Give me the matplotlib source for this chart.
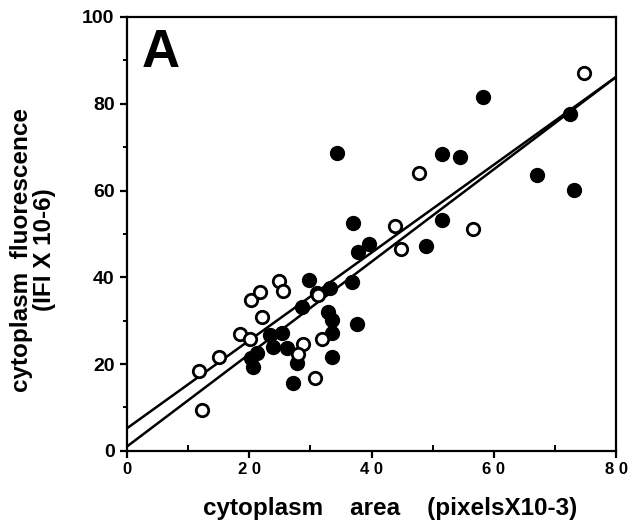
import numpy as np
import matplotlib
matplotlib.use("Agg")
import matplotlib.pyplot as plt

plt.rcParams['font.family'] = ['Liberation Sans', 'DejaVu Sans']

# open circles (area, fluorescence)
open_x = [11.8, 12.2, 15.1, 18.5, 20.1, 20.2, 21.8, 22.1, 24.9, 25.5, 28.7, 27.9,
          30.7, 31.9, 31.3, 43.8, 44.8, 47.7, 56.6, 74.7]
open_y = [18.5, 9.4, 21.7, 26.9, 25.8, 34.8, 36.5, 30.9, 39.2, 36.9, 24.6, 22.4,
          16.9, 25.8, 35.9, 51.8, 46.5, 64.0, 51.1, 87.0]

# filled circles
filled_x = [20.6, 20.2, 21.2, 23.4, 23.9, 25.3, 26.1, 27.1, 27.8, 28.6, 29.7,
            33.2, 32.9, 33.6, 33.6, 33.5, 36.8, 37.6, 37.8, 39.5, 36.9, 31.0,
            34.3, 51.5, 54.4, 51.5, 48.9, 58.2, 72.5, 67.0, 73.1]
filled_y = [19.4, 21.5, 22.5, 26.7, 24.0, 27.1, 23.7, 15.6, 20.3, 33.1, 39.4,
            37.5, 32.1, 30.2, 27.1, 21.7, 39.0, 29.3, 45.8, 47.7, 52.5, 36.3,
            68.7, 68.4, 67.7, 53.2, 47.2, 81.6, 77.6, 63.6, 60.1]

# regression lines (intercept, slope)
fit_intercepts = [5.2, 1.0]
fit_slopes = [1.0125, 1.065]

fig = plt.figure(figsize=(6.32, 5.31), dpi=100)
ax = fig.add_axes([0.201, 0.151, 0.774, 0.817])

xs = np.array([0, 80])
for b, m in zip(fit_intercepts, fit_slopes):
    ax.plot(xs, b + m * xs, color='black', lw=1.8, zorder=2)

ax.scatter(filled_x, filled_y, s=100, color='black', zorder=3)
ax.scatter(open_x, open_y, s=80, facecolors='white', edgecolors='black',
           linewidths=2.0, zorder=4)

ax.set_xlim(0, 80)
ax.set_ylim(0, 100)
ax.set_xticks([0, 20, 40, 60, 80])
ax.set_xticklabels(['0', '2 0', '4 0', '6 0', '8 0'])
ax.set_xticks([10, 30, 50, 70], minor=True)
ax.set_yticks([0, 20, 40, 60, 80, 100])
ax.set_yticks([10, 30, 50, 70, 90], minor=True)

for s in ax.spines.values():
    s.set_linewidth(1.6)
ax.tick_params(axis='x', which='major', direction='out', length=5, width=1.6,
               labelsize=12, pad=3)
ax.tick_params(axis='x', which='minor', direction='in', length=4, width=1.4)
ax.tick_params(axis='y', which='major', direction='out', length=5, width=1.6,
               labelsize=14, pad=4)
ax.tick_params(axis='y', which='minor', direction='out', length=3, width=1.4)
for lab in ax.get_xticklabels() + ax.get_yticklabels():
    lab.set_fontweight('bold')

fig.text(0.617, 0.042, 'cytoplasm    area    (pixelsX10-3)', fontsize=17.5,
         fontweight='bold', ha='center', va='center')
fig.text(0.052, 0.53, 'cytoplasm  fluorescence\n(IFI X 10-6)', fontsize=17.5,
         fontweight='bold', ha='center', va='center', rotation=90,
         multialignment='center', linespacing=1.0)

ax.text(0.03, 0.975, 'A', transform=ax.transAxes, fontsize=38,
        fontweight='bold', va='top', ha='left')

fig.savefig('out.png', dpi=100)
